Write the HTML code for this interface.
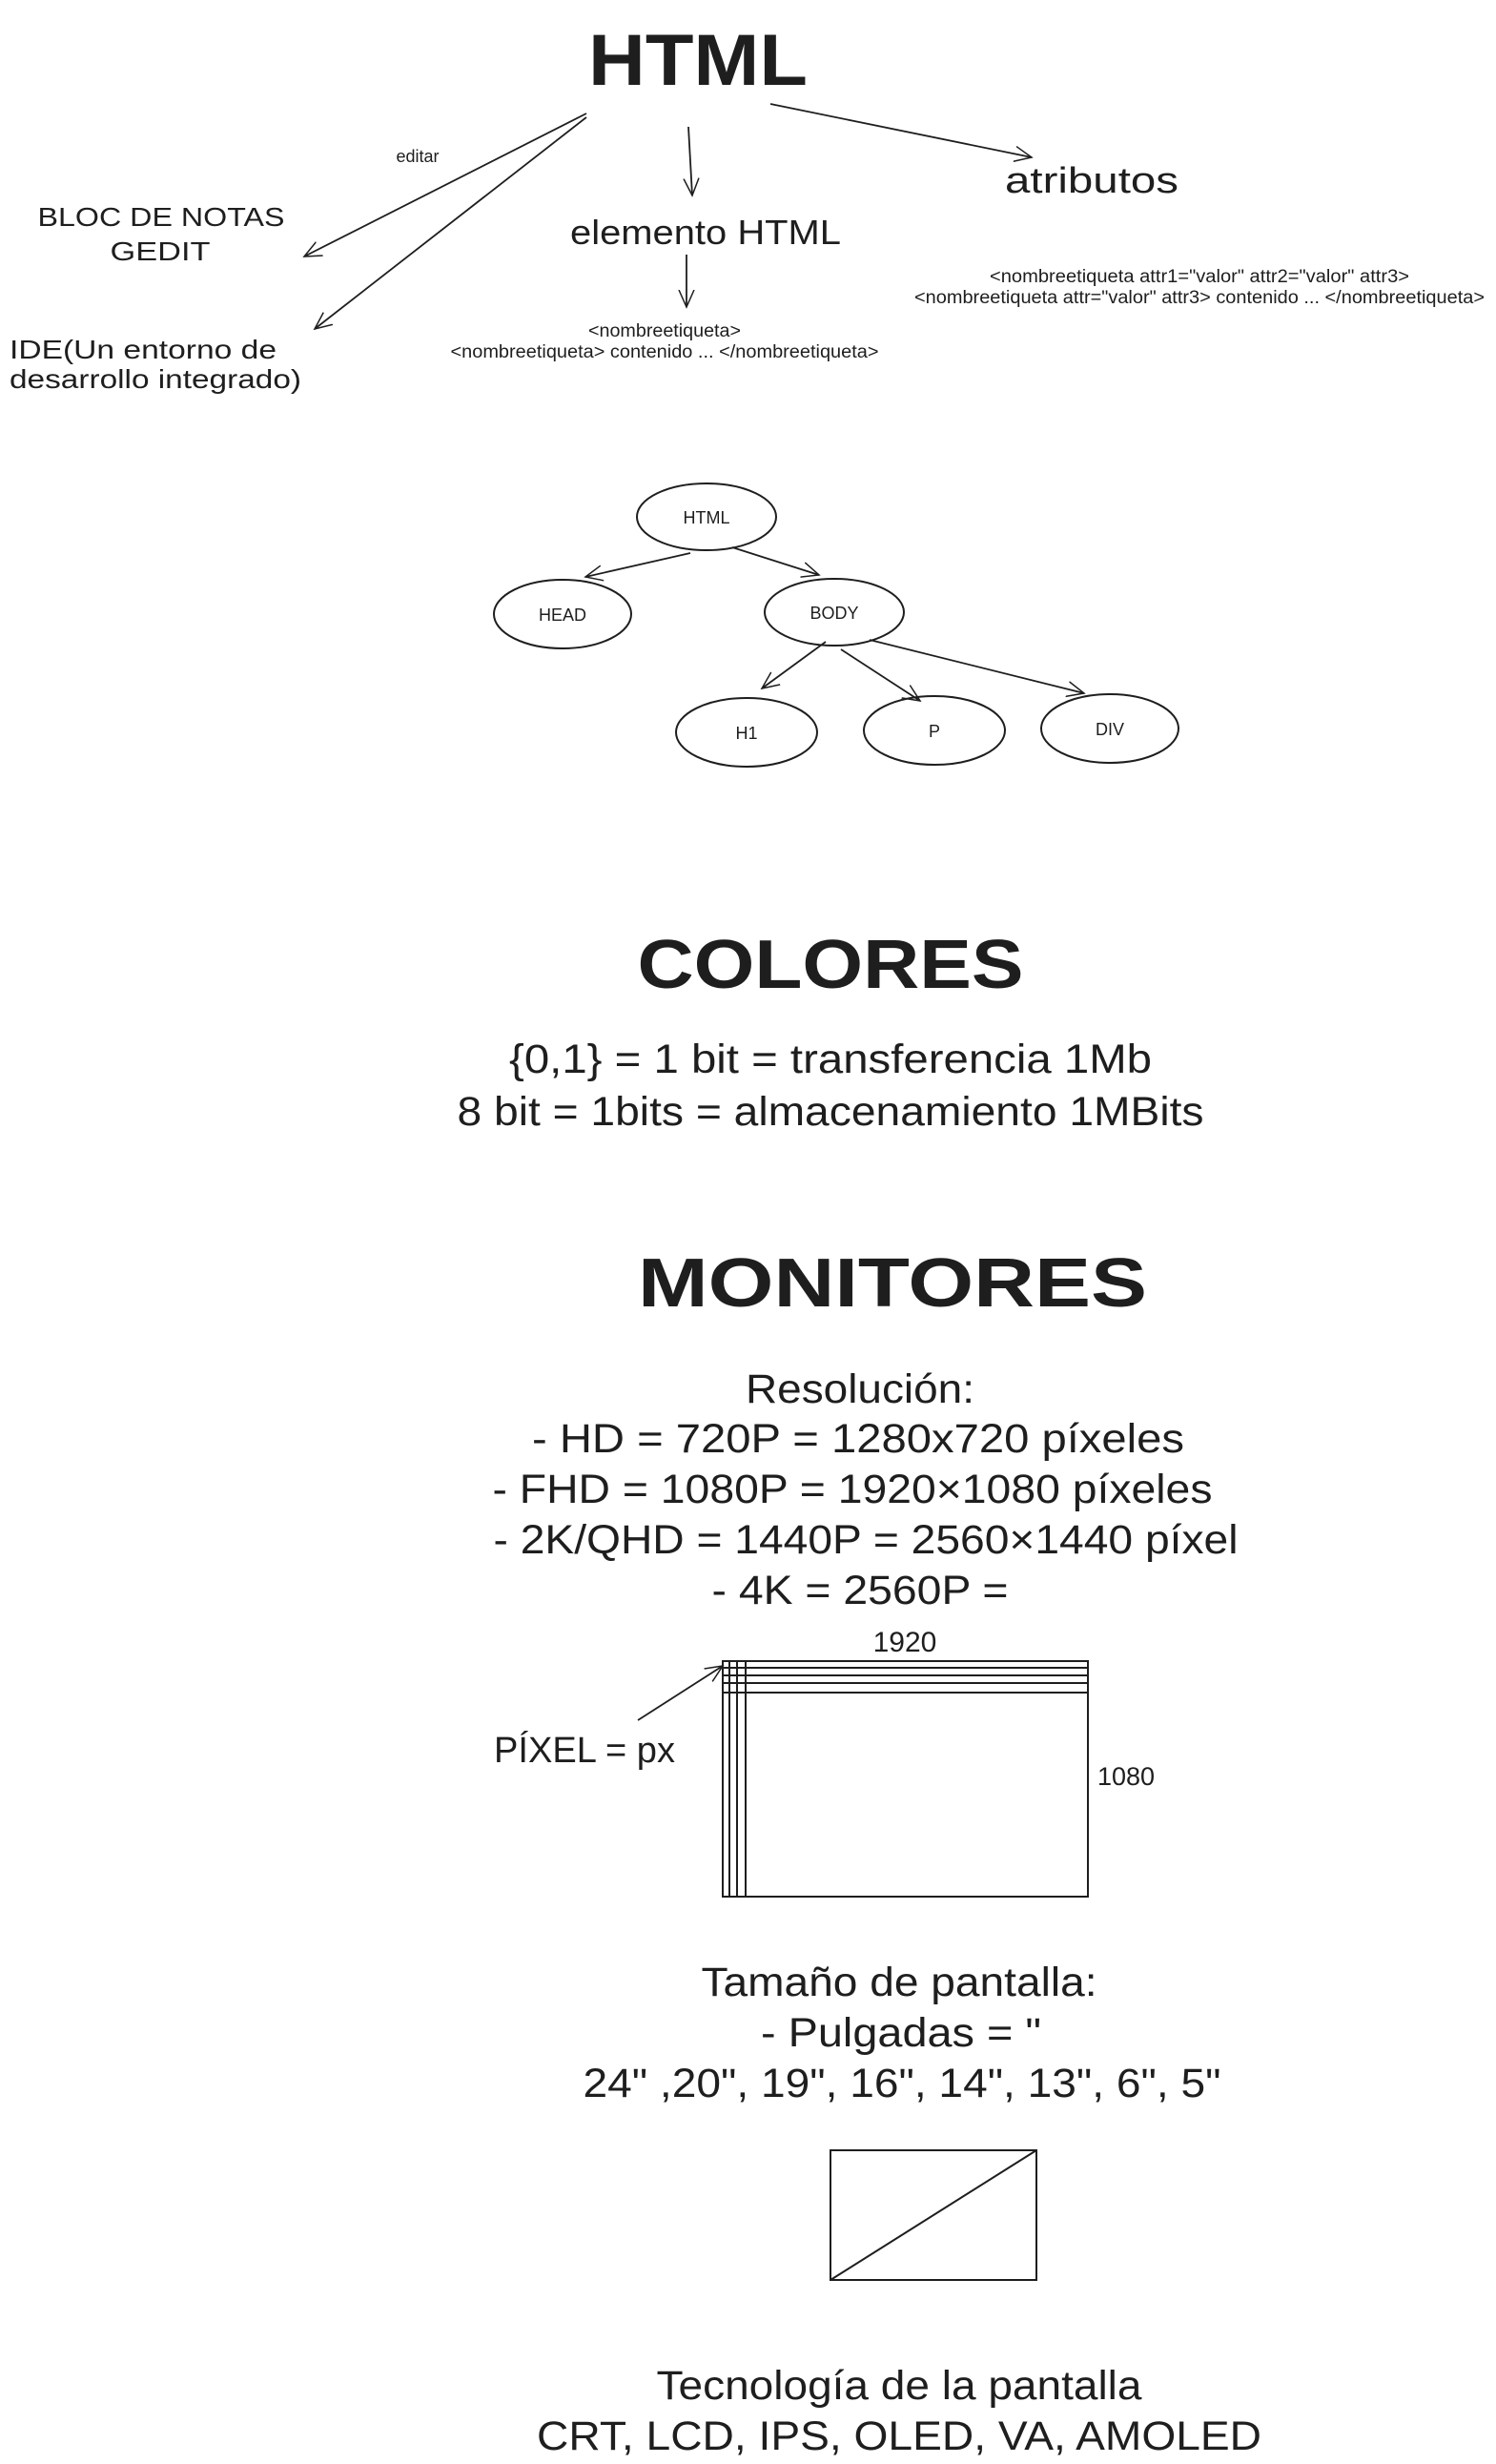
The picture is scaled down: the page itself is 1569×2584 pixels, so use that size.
<!DOCTYPE html>
<html><head><meta charset="utf-8"><style>
html,body{margin:0;padding:0;background:#fff}
svg{display:block}
.h{font-family:"Liberation Sans","DejaVu Sans",sans-serif;fill:#1e1e1e}
.n{font-family:"Liberation Sans",sans-serif;fill:#1e1e1e}
</style></head><body>
<svg width="1569" height="2584" viewBox="0 0 1569 2584" xmlns="http://www.w3.org/2000/svg">
<defs><marker id="a" viewBox="0 0 20 20" refX="18" refY="10" markerWidth="20" markerHeight="20" markerUnits="userSpaceOnUse" orient="auto"><path d="M0 2 L18 10 L0 18" fill="none" stroke="#1e1e1e" stroke-width="1.5"/></marker></defs>
<g stroke="#1e1e1e" stroke-width="1.8" fill="none" marker-end="url(#a)">
<line x1="615" y1="119" x2="319" y2="269"/>
<line x1="615" y1="123" x2="330" y2="345"/>
<line x1="722" y1="133" x2="726" y2="205"/>
<line x1="808" y1="109" x2="1082" y2="165"/>
<line x1="720" y1="267" x2="720" y2="322"/>
<line x1="724" y1="580" x2="614" y2="605"/>
<line x1="768" y1="574" x2="859" y2="603"/>
<line x1="866" y1="673" x2="799" y2="722"/>
<line x1="882" y1="681" x2="965" y2="735"/>
<line x1="912" y1="671" x2="1137" y2="727"/>
<line x1="669" y1="1804" x2="758" y2="1747"/>
</g>
<g class="h" text-anchor="middle">
<text x="732" y="89" font-size="76" font-weight="bold" textLength="230" lengthAdjust="spacingAndGlyphs">HTML</text>
<text x="438" y="170" font-size="18">editar</text>
<text x="169" y="237" font-size="28" textLength="259" lengthAdjust="spacingAndGlyphs">BLOC DE NOTAS</text>
<text x="168" y="273" font-size="28" textLength="105" lengthAdjust="spacingAndGlyphs">GEDIT</text>
<text x="740" y="256" font-size="36" textLength="284" lengthAdjust="spacingAndGlyphs">elemento HTML</text>
<text x="1145" y="202" font-size="38" textLength="182" lengthAdjust="spacingAndGlyphs">atributos</text>
<text x="150" y="376" font-size="28" textLength="280" lengthAdjust="spacingAndGlyphs">IDE(Un entorno de</text>
<text x="163" y="407" font-size="28" textLength="306" lengthAdjust="spacingAndGlyphs">desarrollo integrado)</text>
</g>
<g class="n" text-anchor="middle" font-size="19">
<text x="697" y="353" textLength="160" lengthAdjust="spacingAndGlyphs">&lt;nombreetiqueta&gt;</text>
<text x="697" y="375" textLength="449" lengthAdjust="spacingAndGlyphs">&lt;nombreetiqueta&gt; contenido ... &lt;/nombreetiqueta&gt;</text>
<text x="1258" y="296" textLength="440" lengthAdjust="spacingAndGlyphs">&lt;nombreetiqueta attr1="valor" attr2="valor" attr3&gt;</text>
<text x="1258" y="318" textLength="598" lengthAdjust="spacingAndGlyphs">&lt;nombreetiqueta attr="valor" attr3&gt; contenido ... &lt;/nombreetiqueta&gt;</text>
</g>
<g stroke="#1e1e1e" stroke-width="2" fill="none">
<ellipse cx="741" cy="542" rx="73" ry="35"/>
<ellipse cx="590" cy="644" rx="72" ry="36"/>
<ellipse cx="875" cy="642" rx="73" ry="35"/>
<ellipse cx="783" cy="768" rx="74" ry="36"/>
<ellipse cx="980" cy="766" rx="74" ry="36"/>
<ellipse cx="1164" cy="764" rx="72" ry="36"/>
</g>
<g class="h" text-anchor="middle" font-size="18">
<text x="741" y="549">HTML</text>
<text x="590" y="651">HEAD</text>
<text x="875" y="649">BODY</text>
<text x="783" y="775">H1</text>
<text x="980" y="773">P</text>
<text x="1164" y="771">DIV</text>
</g>
<g class="h" text-anchor="middle" font-weight="bold">
<text x="871" y="1036" font-size="72" textLength="405" lengthAdjust="spacingAndGlyphs">COLORES</text>
<text x="936" y="1370" font-size="72" textLength="534" lengthAdjust="spacingAndGlyphs">MONITORES</text>
</g>
<g class="n" text-anchor="middle" font-size="43">
<text x="871" y="1125" textLength="674" lengthAdjust="spacingAndGlyphs">{0,1} = 1 bit = transferencia 1Mb</text>
<text x="871" y="1180" textLength="783" lengthAdjust="spacingAndGlyphs">8 bit = 1bits = almacenamiento 1MBits</text>
<text x="902" y="1471" textLength="240" lengthAdjust="spacingAndGlyphs">Resolución:</text>
<text x="900" y="1523" textLength="684" lengthAdjust="spacingAndGlyphs">- HD  = 720P = 1280x720 píxeles</text>
<text x="894" y="1576" textLength="755" lengthAdjust="spacingAndGlyphs">- FHD = 1080P = 1920×1080 píxeles</text>
<text x="908" y="1629" textLength="781" lengthAdjust="spacingAndGlyphs">- 2K/QHD = 1440P = 2560×1440 píxel</text>
<text x="902" y="1682" textLength="311" lengthAdjust="spacingAndGlyphs">- 4K = 2560P =</text>
<text x="943" y="2093" textLength="415" lengthAdjust="spacingAndGlyphs">Tamaño de pantalla:</text>
<text x="945" y="2146" textLength="294" lengthAdjust="spacingAndGlyphs">- Pulgadas = "</text>
<text x="946" y="2199" textLength="669" lengthAdjust="spacingAndGlyphs">24" ,20", 19", 16", 14", 13", 6", 5"</text>
<text x="943" y="2516" textLength="509" lengthAdjust="spacingAndGlyphs">Tecnología de la pantalla</text>
<text x="943" y="2569" textLength="760" lengthAdjust="spacingAndGlyphs">CRT, LCD, IPS, OLED, VA, AMOLED</text>
<text x="613" y="1848" font-size="38" textLength="190" lengthAdjust="spacingAndGlyphs">PÍXEL = px</text>
<text x="949" y="1732" font-size="30">1920</text>
<text x="1181" y="1872" font-size="27">1080</text>
</g>
<g stroke="#1e1e1e" stroke-width="2" fill="none">
<rect x="758" y="1742" width="383" height="247"/>
<line x1="758" y1="1749" x2="1141" y2="1749"/>
<line x1="758" y1="1757" x2="1141" y2="1757"/>
<line x1="758" y1="1765" x2="1141" y2="1765"/>
<line x1="758" y1="1775" x2="1141" y2="1775"/>
<line x1="765" y1="1742" x2="765" y2="1989"/>
<line x1="773" y1="1742" x2="773" y2="1989"/>
<line x1="782" y1="1742" x2="782" y2="1989"/>
<rect x="871" y="2255" width="216" height="136"/>
<line x1="871" y1="2391" x2="1087" y2="2255"/>
</g>
</svg>
</body></html>
